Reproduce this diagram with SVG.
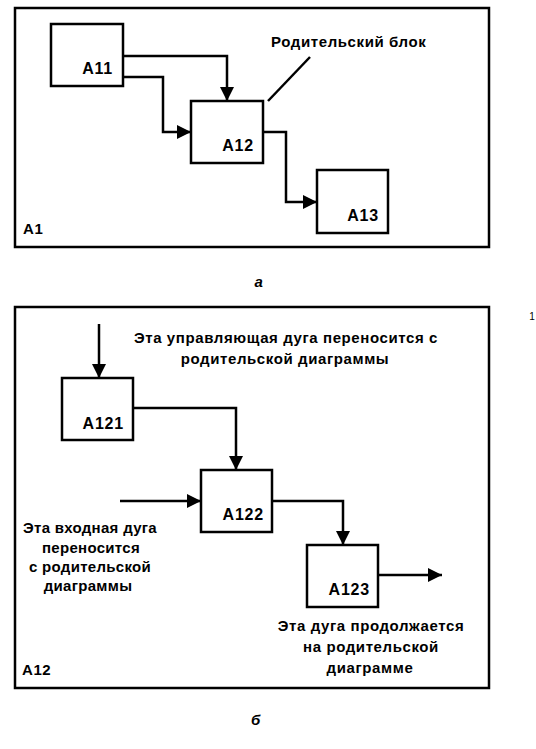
<svg xmlns="http://www.w3.org/2000/svg" width="536" height="749" viewBox="0 0 536 749">
<style>
.frame{fill:none;stroke:#000;stroke-width:2.5}
.box{fill:#fff;stroke:#000;stroke-width:2.5}
.arc{fill:none;stroke:#000;stroke-width:2.5}
.t{font-family:"Liberation Sans",Arial,sans-serif;font-weight:bold;font-size:15px;letter-spacing:0.6px;fill:#000}
.lbl{font-family:"Liberation Sans",Arial,sans-serif;font-weight:bold;font-size:16px;letter-spacing:0.8px;fill:#000;text-anchor:end}
.c{text-anchor:middle}
.sm{letter-spacing:0.3px}
</style>
<defs>
<marker id="arr" viewBox="0 0 14 14" refX="14" refY="7" markerWidth="14" markerHeight="14" markerUnits="userSpaceOnUse" orient="auto">
<path d="M0,0 L14,7 L0,14 z" fill="#000"/>
</marker>
</defs>
<rect width="536" height="749" fill="#fff"/>
<g id="diagram-a">
<rect class="frame" x="15" y="8" width="474" height="239"/>
<text class="t" x="23" y="234">A1</text>
<text class="t" x="259" y="287" text-anchor="middle" font-style="italic" font-size="14">а</text>
</g>
<g id="diagram-b">
<rect class="frame" x="15" y="307" width="474" height="381"/>
<text class="t" x="22" y="675">A12</text>
<text class="t" x="256" y="725" text-anchor="middle" font-style="italic" font-size="14">б</text>
<text x="532" y="320" font-family="Liberation Sans,Arial,sans-serif" font-size="10" text-anchor="middle">1</text>
</g>
<g id="connectors">
<path class="arc" d="M123,56 H227 V101" marker-end="url(#arr)"/>
<path class="arc" d="M123,77 H163 V132 H191" marker-end="url(#arr)"/>
<path class="arc" d="M263,132 H286 V202 H317" marker-end="url(#arr)"/>
<path class="arc" d="M310,57 L268,101"/>
<path class="arc" d="M99,324 V378" marker-end="url(#arr)"/>
<path class="arc" d="M133,408 H236 V470" marker-end="url(#arr)"/>
<path class="arc" d="M120,501 H201" marker-end="url(#arr)"/>
<path class="arc" d="M272,501 H343 V545" marker-end="url(#arr)"/>
<path class="arc" d="M378,575 H442" marker-end="url(#arr)"/>
</g>
<g id="A11"><rect class="box" x="51" y="24" width="72" height="62"/><text class="lbl" x="113" y="74">A11</text></g>
<g id="A12"><rect class="box" x="191" y="101" width="72" height="62"/><text class="lbl" x="254" y="151">A12</text></g>
<g id="A13"><rect class="box" x="317" y="170" width="71" height="63"/><text class="lbl" x="379" y="221">A13</text></g>
<g id="A121"><rect class="box" x="62" y="378" width="71" height="62"/><text class="lbl" x="124" y="429">A121</text></g>
<g id="A122"><rect class="box" x="201" y="470" width="71" height="62"/><text class="lbl" x="264" y="520">A122</text></g>
<g id="A123"><rect class="box" x="307" y="545" width="71" height="62"/><text class="lbl" x="370" y="595">A123</text></g>
<g id="notes">
<text class="t" x="271" y="47">Родительский блок</text>
<text class="t c" x="286" y="343">Эта управляющая дуга переносится с</text>
<text class="t c" x="285" y="364">родительской диаграммы</text>
<text class="t c sm" x="90" y="533">Эта входная дуга</text>
<text class="t c sm" x="91" y="553">переносится</text>
<text class="t c sm" x="90" y="572">с родительской</text>
<text class="t c sm" x="88" y="591">диаграммы</text>
<text class="t c" x="371" y="631">Эта дуга продолжается</text>
<text class="t c" x="371" y="652">на родительской</text>
<text class="t c" x="370" y="673">диаграмме</text>
</g>
</svg>
